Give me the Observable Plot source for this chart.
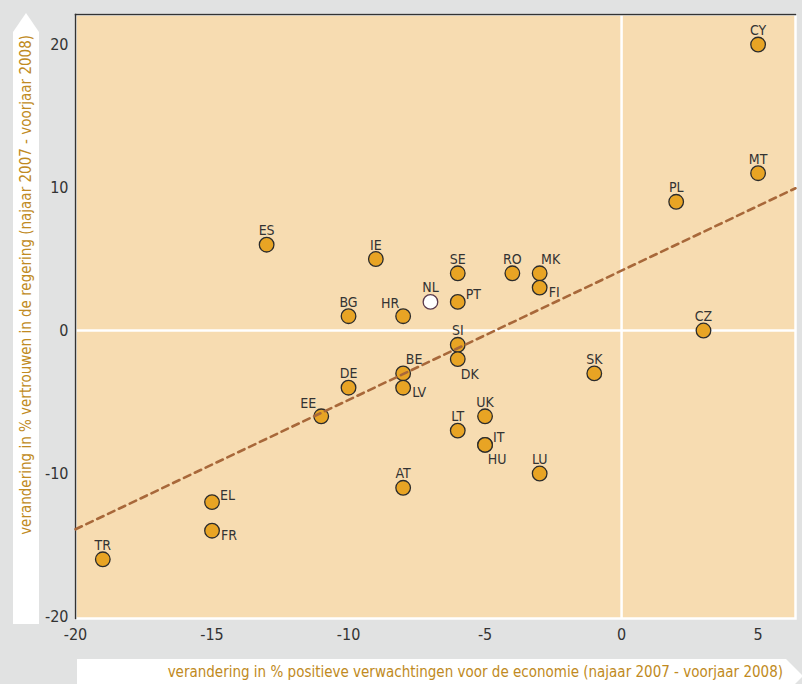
<!DOCTYPE html>
<html>
<head>
<meta charset="utf-8">
<script src="https://cdn.jsdelivr.net/npm/d3@7"></script>
<script src="https://cdn.jsdelivr.net/npm/@observablehq/plot@0.6"></script>
<style>
  html, body { margin: 0; padding: 0; background: #e1e2e2; }
  #chart svg { display: block; }
</style>
</head>
<body>
<div id="chart"></div>
<script>
// ---- data ----
const countries = ["CY","MT","PL","CZ","SK","LU","ES","IE","SE","RO","MK","FI","NL","PT","BG","HR","SI","DK","BE","LV","DE","EE","UK","LT","IT","HU","AT","EL","FR","TR"];
const economyChange = [5,5,2,3,-1,-3,-13,-9,-6,-4,-3,-3,-7,-6,-10,-8,-6,-6,-8,-8,-10,-11,-5,-6,-5,-5,-8,-15,-15,-19];
const trustChange   = [20,11,9,0,-3,-10,6,5,4,4,4,3,2,2,1,1,-1,-2,-3,-4,-4,-6,-6,-7,-8,-8,-11,-12,-14,-16];
const labelPlacement = ["top","top","top","top","top","top","top","top","top","top","topRight","rightDown","top","right","top","topLeft","top","below","topRight","rightDown","top","topLeft","top","top","right","below","top","right","rightDown","top"];
const highlighted = ["NL"];
const trendX = [-20, 6.37];
const trendY = [-13.9, 9.95];
const xTicks = [-20, -15, -10, -5, 0, 5];
const yTicks = [-20, -10, 0, 10, 20];
const xTitle = "verandering in % positieve verwachtingen voor de economie (najaar 2007 - voorjaar 2008)";
const yTitle = "verandering in % vertrouwen in de regering (najaar 2007 - voorjaar 2008)";

const points = countries.map((c, i) => ({country: c, x: economyChange[i], y: trustChange[i], place: labelPlacement[i]}));
const trend = trendX.map((x, i) => ({x, y: trendY[i]}));

// ---- style ----
const FONT = "'Liberation Sans Narrow', 'DejaVu Sans Condensed', 'Arial Narrow', sans-serif";
const PEACH = "#f7dcb1";
const ORANGE = "#e8a424";
const TITLE_COLOR = "#c08a22";
const TEXT = "#333333";

const placements = {
  top:       {dx: 0,   dy: -14, textAnchor: "middle"},
  topRight:  {dx: 11,  dy: -14, textAnchor: "middle"},
  topLeft:   {dx: -13, dy: -13, textAnchor: "middle"},
  right:     {dx: 8,   dy: -7,  textAnchor: "start"},
  rightDown: {dx: 9,   dy: 5,   textAnchor: "start"},
  below:     {dx: 12,  dy: 15,  textAnchor: "middle"}
};

const labelMarks = Object.entries(placements).map(([name, p]) =>
  Plot.text(points.filter(d => d.place === name), {
    x: "x", y: "y", text: "country",
    dx: p.dx, dy: p.dy, textAnchor: p.textAnchor,
    fill: TEXT, fontSize: 14
  })
);

const fmt = d => String(d);

const chart = Plot.plot({
  width: 802,
  height: 684,
  marginLeft: 75,
  marginRight: 7,
  marginTop: 14,
  marginBottom: 66,
  style: {background: "#e1e2e2", fontFamily: FONT, fontSize: "13px", color: TEXT},
  x: {domain: [-20, 6.37]},
  y: {domain: [-20.14, 22.1]},
  marks: [
    Plot.frame({fill: PEACH, stroke: "white", strokeWidth: 2.5}),
    Plot.ruleX([0], {stroke: "white", strokeWidth: 2.5}),
    Plot.ruleY([0], {stroke: "white", strokeWidth: 2.5}),
    Plot.frame({anchor: "left", stroke: "#333", strokeWidth: 1.5}),
    Plot.frame({anchor: "top", stroke: "#333", strokeWidth: 1.5}),
    Plot.axisX({ticks: xTicks, tickFormat: fmt, tickSize: 0, tickPadding: 10, fontSize: 16, fill: TEXT, label: null}),
    Plot.axisY({ticks: yTicks, tickFormat: fmt, tickSize: 0, tickPadding: 7, fontSize: 16, fill: TEXT, label: null}),
    Plot.dot(points, {
      x: "x", y: "y", r: 7.3,
      fill: d => highlighted.includes(d.country) ? "white" : ORANGE,
      stroke: d => highlighted.includes(d.country) ? "#5a3a4c" : "#2b2b2b",
      strokeWidth: 1.3
    }),
    Plot.line(trend, {x: "x", y: "y", stroke: "#a8683a", strokeWidth: 2.6, strokeDasharray: "7,5"}),
    ...labelMarks
  ]
});

// axis title arrows (decoration)
const svg = d3.select(chart);
const deco = svg.insert("g", ":first-child").attr("class", "titles");
deco.append("polygon")
  .attr("points", "13,624 13,32 26,13 39,32 39,624")
  .attr("fill", "white");
deco.append("polygon")
  .attr("points", "77,659 786,659 803,676 786,693 77,693")
  .attr("fill", "white");
const titleText = svg.append("g").attr("font-family", FONT).attr("fill", TITLE_COLOR).attr("font-size", 15);
titleText.append("text")
  .attr("transform", "translate(31,35) rotate(-90)")
  .attr("text-anchor", "end")
  .text(yTitle);
titleText.append("text")
  .attr("x", 783).attr("y", 677)
  .attr("text-anchor", "end")
  .text(xTitle);

document.getElementById("chart").appendChild(chart);
</script>
</body>
</html>
